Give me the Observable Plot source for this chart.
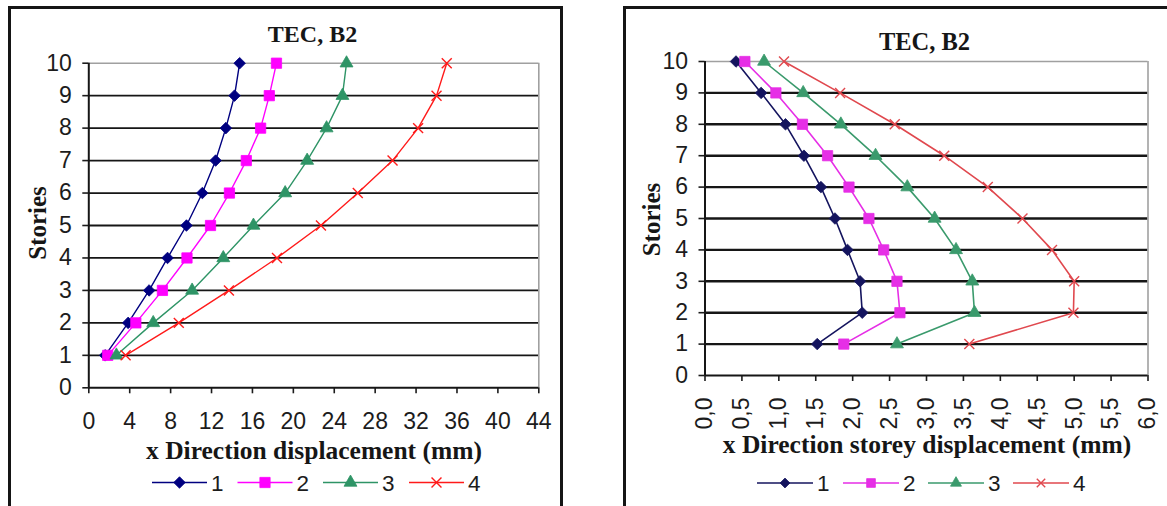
<!DOCTYPE html>
<html><head><meta charset="utf-8">
<script src="https://cdn.jsdelivr.net/npm/d3@7"></script>
<script src="https://cdn.jsdelivr.net/npm/@observablehq/plot@0.6"></script>
<style>
html,body{margin:0;padding:0;background:#fff;width:1167px;height:506px;overflow:hidden;}
#page{position:relative;width:1167px;height:506px;overflow:hidden;}
.panel{position:absolute;border:3px solid #151515;box-sizing:border-box;background:#fff;}
.plot{position:absolute;top:0;}
#overlay{position:absolute;left:0;top:0;pointer-events:none;}
</style></head><body><div id="page"></div>
<script>
// ---------- data ----------
const stories = [1, 2, 3, 4, 5, 6, 7, 8, 9, 10];
const seriesNames = ["1", "2", "3", "4"];
// left chart: x Direction displacement (mm)
const leftS1 = [1.6, 3.85, 5.9, 7.7, 9.55, 11.1, 12.4, 13.4, 14.25, 14.75];
const leftS2 = [1.85, 4.6, 7.2, 9.6, 11.9, 13.75, 15.4, 16.8, 17.65, 18.35];
const leftS3 = [2.7, 6.3, 10.1, 13.15, 16.1, 19.2, 21.35, 23.25, 24.8, 25.2];
const leftS4 = [3.6, 8.8, 13.7, 18.4, 22.7, 26.3, 29.7, 32.2, 34.0, 35.0];
// right chart: x Direction storey displacement (mm)
const rightS1 = [1.52, 2.13, 2.10, 1.93, 1.76, 1.57, 1.34, 1.09, 0.76, 0.42];
const rightS2 = [1.88, 2.64, 2.60, 2.42, 2.22, 1.95, 1.66, 1.32, 0.96, 0.54];
const rightS3 = [2.60, 3.65, 3.62, 3.40, 3.11, 2.74, 2.31, 1.84, 1.33, 0.80];
const rightS4 = [3.58, 4.99, 5.00, 4.70, 4.30, 3.83, 3.24, 2.57, 1.83, 1.07];
// ticks and labels
const yTicks = [0, 1, 2, 3, 4, 5, 6, 7, 8, 9, 10];
const leftXTicks = [0, 4, 8, 12, 16, 20, 24, 28, 32, 36, 40, 44];
const rightXTicks = [0, 0.5, 1, 1.5, 2, 2.5, 3, 3.5, 4, 4.5, 5, 5.5, 6];
const titleText = "TEC, B2";
const leftXLabel = "x Direction displacement (mm)";
const rightXLabel = "x Direction storey displacement (mm)";
const yLabel = "Stories";

// ---------- styles ----------
const leftColors = ["#000080", "#ff00ff", "#2e9466", "#ff1a1a"];
const rightColors = ["#14145e", "#e62ee6", "#3a9a6c", "#e0484e"];
const symbols = [
  {type: "diamond2", d3: d3.symbolDiamond2, r: 5.2, filled: true},
  {type: "square", d3: d3.symbolSquare, r: 5.8, filled: true},
  {type: "triangle", d3: d3.symbolTriangle, r: 4.8, filled: true},
  {type: "times", d3: d3.symbolTimes, r: 4.6, filled: false}
];
const sansFont = "'Liberation Sans', Arial, sans-serif";
const serifFont = "'Liberation Serif', 'Times New Roman', serif";

function toRows(seriesVals) {
  const rows = [];
  seriesVals.forEach((vals, i) => {
    vals.forEach((v, j) => rows.push({series: seriesNames[i], story: stories[j], x: v}));
  });
  return rows;
}

function chart(o) {
  const rows = toRows(o.series);
  const dotMarks = symbols.map((s, i) => Plot.dot(rows.filter(d => d.series === seriesNames[i]), {
    x: "x", y: "story", symbol: () => s.type, r: s.r,
    fill: s.filled ? o.colors[i] : "none", stroke: o.colors[i], strokeWidth: s.filled ? 0.8 : 1.4
  }));
  return Plot.plot({
    width: o.width, height: o.height,
    marginLeft: o.ml, marginRight: o.mr, marginTop: o.mt, marginBottom: o.mb,
    style: {background: "transparent", overflow: "visible", fontFamily: sansFont, fontSize: o.fontSize + "px", color: "#1c1c1c"},
    x: {domain: o.xDomain},
    y: {domain: [0, 10]},
    symbol: {domain: symbols.map(s => s.type), range: symbols.map(s => s.type)},
    marks: [
      Plot.ruleY(yTicks.filter(d => d > 0 && d < 10), {stroke: "#161616", strokeWidth: o.gridW}),
      Plot.ruleY([10], {stroke: "#a0a0a0", strokeWidth: 1.6}),
      Plot.ruleX([o.xDomain[1]], {stroke: "#a0a0a0", strokeWidth: 1.6}),
      Plot.axisY(yTicks, {tickSize: 6, tickPadding: o.yPad, label: null, strokeWidth: 1.6}),
      Plot.axisX(o.xTicks, {tickSize: 6, tickPadding: o.xPad, label: null, tickFormat: o.fmt, tickRotate: o.rotate, strokeWidth: 1.6}),
      Plot.ruleX([0], {stroke: "#161616", strokeWidth: 2}),
      Plot.ruleY([0], {stroke: "#161616", strokeWidth: 2}),
      Plot.line(rows, {x: "x", y: "story", z: "series", stroke: d => o.colors[seriesNames.indexOf(d.series)], strokeWidth: o.lineW}),
      ...dotMarks
    ]
  });
}

const page = document.getElementById("page");
function addPanel(left, top, w, h) {
  const d = document.createElement("div");
  d.className = "panel";
  Object.assign(d.style, {left: left + "px", top: top + "px", width: w + "px", height: h + "px"});
  page.appendChild(d);
}
addPanel(8, 6, 555, 530);
addPanel(623, 6, 600, 530);

const left = chart({
  series: [leftS1, leftS2, leftS3, leftS4], colors: leftColors,
  width: 560, height: 440, ml: 88.3, mr: 21.7, mt: 62.7, mb: 52.7,
  xDomain: [0, 44], xTicks: leftXTicks, fmt: d => String(d), rotate: 0,
  xPad: 19, yPad: 11, gridW: 1.8, lineW: 1.4, fontSize: 23
});
left.classList.add("plot");
left.style.left = "0px";
page.appendChild(left);

const right = chart({
  series: [rightS1, rightS2, rightS3, rightS4], colors: rightColors,
  width: 567, height: 440, ml: 104.5, mr: 19.5, mt: 61, mb: 65,
  xDomain: [0, 6], xTicks: rightXTicks, fmt: d => d.toFixed(1).replace(".", ","), rotate: -90,
  xPad: 16, yPad: 11, gridW: 2.4, lineW: 1.6, fontSize: 23
});
right.classList.add("plot");
right.style.left = "600px";
page.appendChild(right);

// ---------- titles, axis titles, legends ----------
const svg = d3.select(page).append("svg").attr("id", "overlay").attr("width", 1167).attr("height", 506);
function serifText(x, y, txt, size, rot) {
  const t = svg.append("text").attr("text-anchor", "middle")
    .attr("font-family", serifFont).attr("font-weight", "bold").attr("font-size", size)
    .attr("fill", "#161616").text(txt);
  if (rot) t.attr("transform", `translate(${x},${y}) rotate(-90)`);
  else t.attr("x", x).attr("y", y);
}
serifText(312.5, 41.5, titleText, 24);
serifText(924.5, 49.5, titleText, 24.5);
serifText(314, 459, leftXLabel, 25.5);
serifText(927, 453, rightXLabel, 25.5);
serifText(46, 223, yLabel, 25, true);
serifText(660, 219.5, yLabel, 25, true);

function legend(starts, y, lineLen, colors, sc) {
  starts.forEach((x0, i) => {
    const g = svg.append("g");
    g.append("line").attr("x1", x0).attr("x2", x0 + lineLen).attr("y1", y).attr("y2", y)
      .attr("stroke", colors[i]).attr("stroke-width", 1.7);
    const s = symbols[i];
    const r = s.r * sc;
    g.append("path").attr("transform", `translate(${x0 + lineLen / 2},${y})`)
      .attr("d", d3.symbol().type(s.d3).size(Math.PI * r * r)())
      .attr("fill", s.filled ? colors[i] : "none").attr("stroke", colors[i])
      .attr("stroke-width", s.filled ? 0.8 : 1.4);
    g.append("text").attr("x", x0 + lineLen + 4).attr("y", y + 8)
      .attr("font-family", sansFont).attr("font-size", 22.5).attr("fill", "#1c1c1c")
      .text(seriesNames[i]);
  });
}
legend([152, 237.5, 323, 409], 482.5, 55, leftColors, 1);
legend([757, 843, 928, 1013], 483, 56, rightColors, 0.85);
</script>
</body></html>
